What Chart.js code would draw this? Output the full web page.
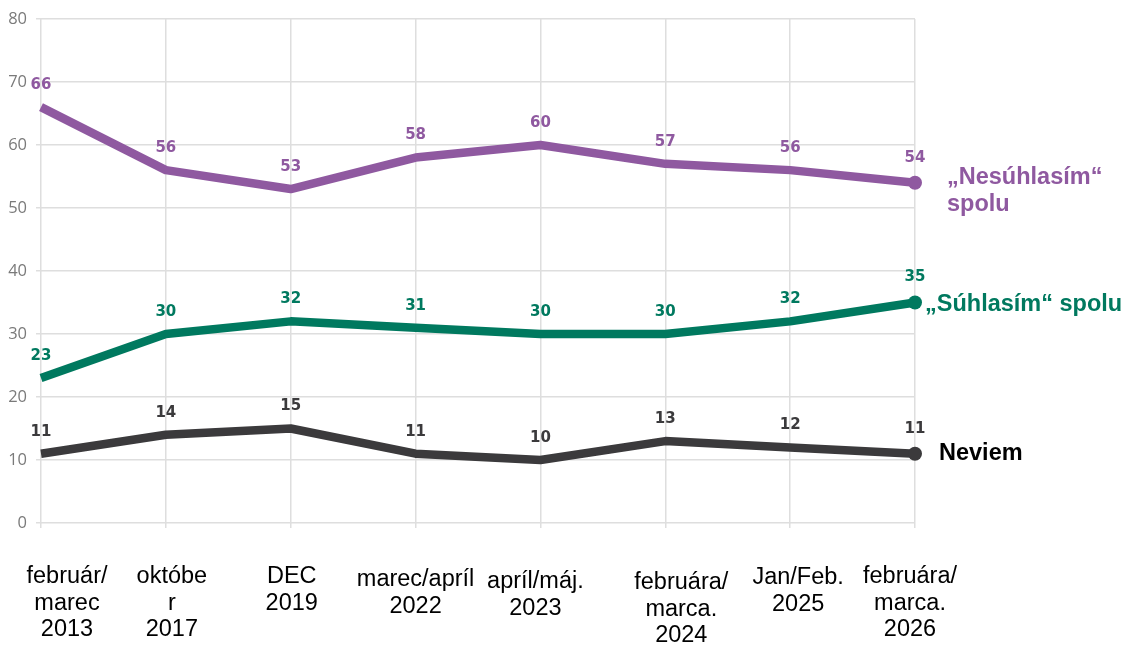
<!DOCTYPE html>
<html lang="sk">
<head>
<meta charset="utf-8">
<title>Nesúhlasím / Súhlasím / Neviem</title>
<script src="https://cdn.jsdelivr.net/npm/chart.js@4/dist/chart.umd.min.js"></script>
<style>
  html, body { margin: 0; padding: 0; background: #ffffff; }
  #wrap { width: 1128px; height: 647px; }
</style>
</head>
<body>
<div id="wrap"><canvas id="chart" width="1128" height="647"></canvas></div>
<script>
// Survey waves (multi-line axis labels)
const categories = [
  ["február/", "marec", "2013"],
  ["októbe", "r", "2017"],
  ["DEC", "2019"],
  ["marec/apríl", "2022"],
  ["apríl/máj.", "2023"],
  ["februára/", "marca.", "2024"],
  ["Jan/Feb.", "2025"],
  ["februára/", "marca.", "2026"]
];

// Shares in percent
const nesuhlasim = [66, 56, 53, 58, 60, 57, 56, 54];
const suhlasim   = [23, 30, 32, 31, 30, 30, 32, 35];
const neviem     = [11, 14, 15, 11, 10, 13, 12, 11];

// Y axis ticks
const yTicks = [0, 10, 20, 30, 40, 50, 60, 70, 80];

// Series names written next to the last point
const seriesNames = {
  nesuhlasim: ["„Nesúhlasím“", "spolu"],
  suhlasim: ["„Súhlasím“ spolu"],
  neviem: ["Neviem"]
};

const COLORS = {
  nesuhlasim: "#8f59a0",
  suhlasim: "#00795f",
  neviem: "#3b3a3c"
};

// Small nudges for the category captions (layout only)
const captionShiftX = [26, 6, 1, 0, -5, 16, 8, -5];
const captionShiftY = [54, 54, 54, 57, 59, 60, 55, 54];
const captionLineGap = 26.5;

// Placement of the series names relative to the last point
const nameOffsets = {
  nesuhlasim: { dx: 32, dy: -5 },
  suhlasim: { dx: 10, dy: 2 },
  neviem: { dx: 24, dy: 0 }
};

const lastOnly = (n, r) => Array.from({ length: n }, (_, i) => (i === n - 1 ? r : 0));

function lineSet(key, label, data) {
  return {
    label: label,
    data: data,
    borderColor: COLORS[key],
    backgroundColor: COLORS[key],
    borderWidth: 8.5,
    borderCapStyle: "butt",
    borderJoinStyle: "round",
    tension: 0,
    pointRadius: lastOnly(data.length, 7),
    pointHoverRadius: lastOnly(data.length, 7),
    pointBorderWidth: 0,
    fill: false,
    seriesKey: key
  };
}

// Value labels above every point
const valueLabels = {
  id: "valueLabels",
  afterDatasetsDraw(chart) {
    const ctx = chart.ctx;
    ctx.save();
    ctx.font = "bold 15px 'DejaVu Sans'";
    ctx.textAlign = "center";
    ctx.textBaseline = "middle";
    chart.data.datasets.forEach((ds, di) => {
      const meta = chart.getDatasetMeta(di);
      ctx.fillStyle = ds.borderColor;
      meta.data.forEach((pt, i) => {
        const lift = i === meta.data.length - 1 ? 25 : 22;
        ctx.fillText(String(ds.data[i]), pt.x, pt.y - lift);
      });
    });
    ctx.restore();
  }
};

// Series names at the right end of each line
const seriesTitles = {
  id: "seriesTitles",
  afterDatasetsDraw(chart) {
    const ctx = chart.ctx;
    ctx.save();
    ctx.font = "bold 23.5px 'Liberation Sans', Arial, sans-serif";
    ctx.textAlign = "left";
    ctx.textBaseline = "middle";
    chart.data.datasets.forEach((ds, di) => {
      const meta = chart.getDatasetMeta(di);
      const last = meta.data[meta.data.length - 1];
      const key = ds.seriesKey;
      const off = nameOffsets[key];
      ctx.fillStyle = key === "neviem" ? "#000000" : ds.borderColor;
      seriesNames[key].forEach((line, li) => {
        ctx.fillText(line, last.x + off.dx, last.y + off.dy + li * 27);
      });
    });
    ctx.restore();
  }
};

// Multi-line captions under the x axis
const categoryCaptions = {
  id: "categoryCaptions",
  afterDraw(chart) {
    const ctx = chart.ctx;
    const xs = chart.scales.x;
    const bottom = chart.chartArea.bottom;
    ctx.save();
    ctx.font = "23.5px 'Liberation Sans', Arial, sans-serif";
    ctx.fillStyle = "#000000";
    ctx.textAlign = "center";
    ctx.textBaseline = "middle";
    categories.forEach((lines, i) => {
      const x = xs.getPixelForValue(i) + captionShiftX[i];
      lines.forEach((t, li) => {
        ctx.fillText(t, x, bottom + captionShiftY[i] + li * captionLineGap);
      });
    });
    ctx.restore();
  }
};

new Chart(document.getElementById("chart"), {
  type: "line",
  data: {
    labels: categories.map(c => c.join(" ")),
    datasets: [
      lineSet("nesuhlasim", "„Nesúhlasím“ spolu", nesuhlasim),
      lineSet("suhlasim", "„Súhlasím“ spolu", suhlasim),
      lineSet("neviem", "Neviem", neviem)
    ]
  },
  options: {
    responsive: false,
    animation: false,
    devicePixelRatio: 1,
    layout: { padding: { top: 16, right: 213, bottom: 0, left: 0 } },
    plugins: {
      legend: { display: false },
      tooltip: { enabled: false },
      title: { display: false }
    },
    scales: {
      x: {
        type: "category",
        offset: false,
        grid: {
          color: "#dedede",
          lineWidth: 1.5,
          drawTicks: true,
          tickLength: 5
        },
        border: { display: false },
        ticks: { display: false },
        afterFit(scale) { scale.height = 124; }
      },
      y: {
        min: 0,
        max: 80,
        afterBuildTicks(scale) { scale.ticks = yTicks.map(v => ({ value: v })); },
        grid: {
          color: "#dedede",
          lineWidth: 1.5,
          drawTicks: true,
          tickLength: 5
        },
        border: { display: false },
        ticks: {
          padding: 9,
          color: "#7a7a7a",
          font: { family: "'Open Sans', sans-serif", size: 16.5 }
        },
        afterFit(scale) { scale.width = 41; }
      }
    }
  },
  plugins: [valueLabels, seriesTitles, categoryCaptions]
});
</script>
</body>
</html>
